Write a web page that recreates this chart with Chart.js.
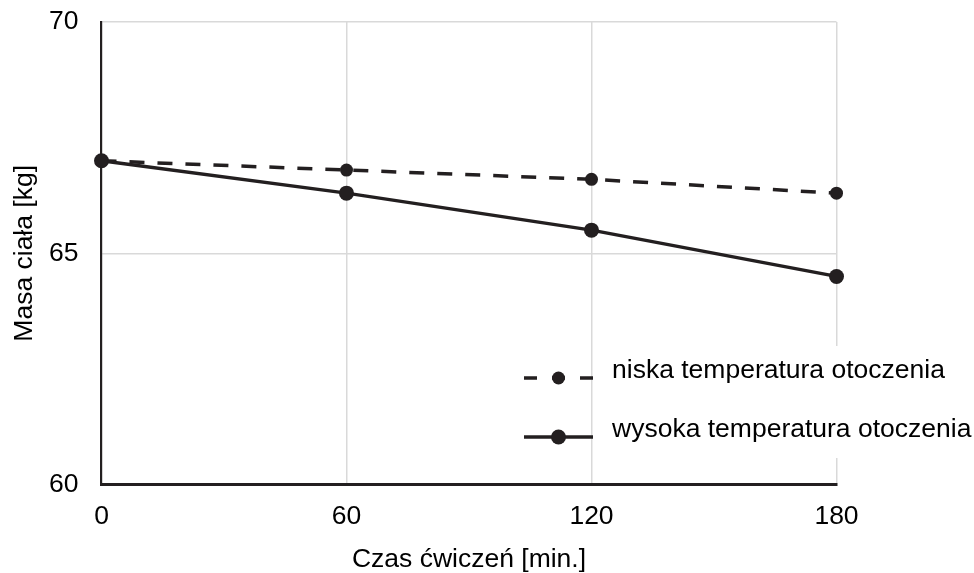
<!DOCTYPE html>
<html>
<head>
<meta charset="utf-8">
<script src="https://cdn.jsdelivr.net/npm/chart.js@4/dist/chart.umd.min.js"></script>
<style>
    body { margin: 0; background: #fff; }
    #wrap { width: 974px; height: 573px; }
</style>
</head>
<body>
<div id="wrap"><canvas id="massChart" width="974" height="573"></canvas></div>
<script>
/* ============================================================
   DATA
============================================================ */
const timeMin = [0, 60, 120, 180];
const lowTemp = [67.0, 66.8, 66.6, 66.3];
const highTemp = [67.0, 66.3, 65.5, 64.5];
const seriesNames = ["niska temperatura otoczenia", "wysoka temperatura otoczenia"];
const xTicks = [0, 60, 120, 180];
const yTicks = [60, 65, 70];

/* ============================================================
   STYLE
============================================================ */
const INK = "#231f20";
const GRID = "#d9d9d9";
const FONT = "'Liberation Sans', Arial, sans-serif";
const FSIZE = 26.5;

function toPoints(values) {
    return timeMin.map((t, i) => ({ x: t, y: values[i] }));
}

/* legend drawn inside the plot, bottom right */
const insideLegend = {
    id: "insideLegend",
    afterDraw(chart, args, opts) {
        const ctx = chart.ctx;
        ctx.save();
        ctx.fillStyle = "#fff";
        ctx.fillRect(opts.boxLeft, opts.boxTop, opts.boxRight - opts.boxLeft, opts.boxBottom - opts.boxTop);

        chart.data.datasets.forEach((ds, i) => {
            const y = opts.rows[i];
            ctx.strokeStyle = ds.borderColor;
            ctx.lineWidth = ds.borderWidth;
            ctx.setLineDash(ds.legendDash || []);
            ctx.beginPath();
            ctx.moveTo(opts.lineFrom, y);
            ctx.lineTo(opts.lineTo, y);
            ctx.stroke();
            ctx.setLineDash([]);

            ctx.fillStyle = ds.pointBackgroundColor;
            ctx.beginPath();
            ctx.arc((opts.lineFrom + opts.lineTo) / 2, y, ds.pointRadius, 0, Math.PI * 2);
            ctx.fill();

            ctx.fillStyle = "#000";
            ctx.font = FSIZE + "px " + FONT;
            ctx.textBaseline = "alphabetic";
            ctx.textAlign = "left";
            ctx.fillText(ds.label, opts.textLeft, y);
        });
        ctx.restore();
    }
};

new Chart(document.getElementById("massChart"), {
    type: "line",
    data: {
        datasets: [
            {
                label: seriesNames[0],
                data: toPoints(lowTemp),
                borderColor: INK,
                borderWidth: 3.5,
                borderDash: [15, 13],
                legendDash: [13, 15],
                pointRadius: 6.5,
                pointBackgroundColor: INK,
                pointBorderWidth: 0,
                clip: false,
            },
            {
                label: seriesNames[1],
                data: toPoints(highTemp),
                borderColor: INK,
                borderWidth: 3.4,
                pointRadius: 7.5,
                pointBackgroundColor: INK,
                pointBorderWidth: 0,
                clip: false,
            }
        ]
    },
    options: {
        responsive: false,
        animation: false,
        layout: { autoPadding: false, padding: { top: 22, right: 137.5, left: 0, bottom: 0 } },
        plugins: {
            legend: { display: false },
            tooltip: { enabled: false },
            insideLegend: {
                boxLeft: 597, boxRight: 974, boxTop: 346, boxBottom: 458,
                lineFrom: 524, lineTo: 593, textLeft: 612,
                rows: [378, 437]
            }
        },
        scales: {
            x: {
                type: "linear",
                min: 0,
                max: 180,
                afterFit: s => { s.height = 88.4; s.paddingLeft = 0; s.paddingRight = 0; },
                afterBuildTicks: s => { s.ticks = xTicks.map(v => ({ value: v })); },
                grid: {
                    color: c => (c.tick && c.tick.value === 0 ? "transparent" : GRID),
                    lineWidth: 1.5,
                    drawTicks: false
                },
                border: { display: true, color: INK, width: 3 },
                ticks: { color: "#000", padding: 16, font: { family: FONT, size: FSIZE } },
                title: {
                    display: true,
                    text: "Czas ćwiczeń [min.]",
                    color: "#000",
                    font: { family: FONT, size: FSIZE, lineHeight: 1 },
                    padding: { top: 0, bottom: 0 }
                }
            },
            y: {
                min: 60,
                max: 70,
                afterFit: s => { s.width = 101.5; s.paddingTop = 0; s.paddingBottom = 0; },
                afterBuildTicks: s => { s.ticks = yTicks.map(v => ({ value: v })); },
                grid: {
                    color: c => (c.tick && c.tick.value === 60 ? "transparent" : GRID),
                    lineWidth: 1.5,
                    drawTicks: false
                },
                border: { display: true, color: INK, width: 2.2 },
                ticks: { color: "#000", padding: 23, font: { family: FONT, size: FSIZE } },
                title: {
                    display: true,
                    text: "Masa ciała [kg]",
                    color: "#000",
                    font: { family: FONT, size: FSIZE, lineHeight: 1 },
                    padding: { top: 11, bottom: 0 }
                }
            }
        }
    },
    plugins: [insideLegend]
});
</script>
</body>
</html>
